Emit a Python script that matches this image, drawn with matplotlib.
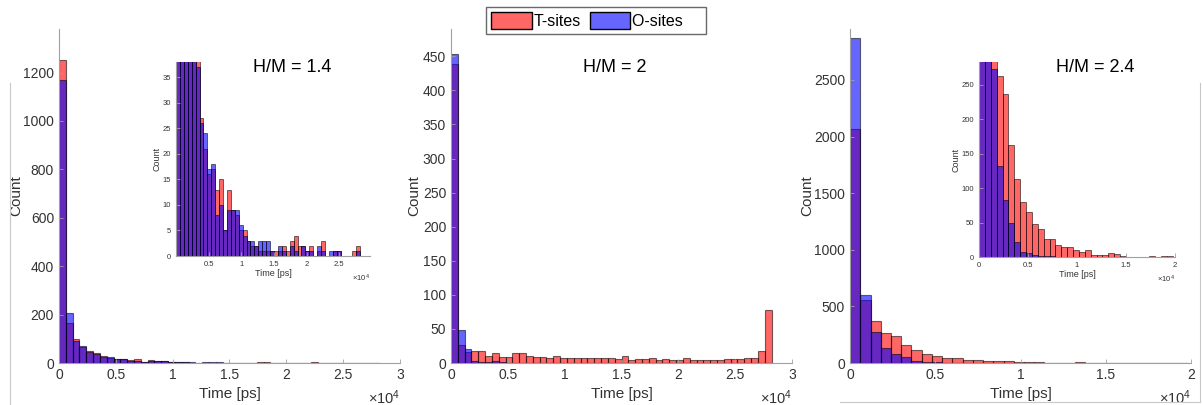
import numpy as np
import matplotlib
matplotlib.use("Agg")
import matplotlib.pyplot as plt
from matplotlib.patches import Patch
from matplotlib.lines import Line2D

plt.rcParams['font.family'] = ['Liberation Sans', 'DejaVu Sans']
plt.rcParams['mathtext.fontset'] = 'custom'
plt.rcParams['mathtext.rm'] = 'Liberation Sans'
plt.rcParams['mathtext.it'] = 'Liberation Sans:italic'

# bin width of the histograms [ps]
bin_w = 600

# H/M = 1.4 counts per bin
t_14 = [1250, 166, 99, 67, 51, 41, 27, 21, 16, 17, 13, 15, 5, 13, 9, 8, 5, 5, 3, 2, 2, 1,
        1, 1, 1, 1, 1, 2, 1, 3, 4, 2, 2, 1, 2, 0, 1, 3, 0, 0, 1, 1, 0, 0, 0, 1, 2]
o_14 = [1170, 207, 91, 69, 44, 37, 26, 24, 17, 18, 8, 10, 5, 9, 9, 9, 6, 4, 3, 3, 2, 3,
        3, 3, 1, 0, 2, 1, 0, 2, 1, 0, 2, 1, 1, 0, 2, 1, 0, 1, 1, 1, 0, 0, 0, 0, 1]

# H/M = 2
t_20 = [438, 27, 16, 17, 17, 10, 14, 9, 9, 14, 14, 10, 9, 9, 8, 10, 7, 7, 7, 8, 7, 8,
        7, 8, 6, 11, 5, 6, 6, 8, 5, 6, 5, 5, 8, 4, 4, 4, 5, 4, 6, 6, 6, 8, 7, 18, 78]
o_20 = [453, 48, 21, 3, 2, 1, 3, 1, 0, 0, 0, 0, 0, 0, 0, 0, 0, 0, 0, 0, 0, 0,
        0, 0, 0, 0, 0, 0, 0, 0, 0, 0, 0, 0, 0, 0, 0, 0, 0, 0, 0, 0, 0, 0, 0, 0, 0]

# H/M = 2.4
t_24 = [2070, 555, 375, 262, 237, 162, 113, 80, 65, 48, 40, 26, 26, 17, 14, 15, 10,
        8, 10, 3, 3, 3, 6, 4, 2, 0, 0, 0, 0, 1, 0, 1, 1]
o_24 = [2870, 600, 273, 132, 83, 49, 22, 7, 6, 3, 1, 2, 1, 0, 0, 0, 0,
        0, 0, 0, 0, 0, 0, 0, 0, 0, 0, 0, 0, 0, 0, 0, 0]

labels = ["H/M = 1.4", "H/M = 2", "H/M = 2.4"]

red = (1, 0, 0, 0.6)
blue = (0, 0, 1, 0.6)
edge = (0, 0, 0, 0.55)
axcol = "#a0a0a0"
txtcol = "#333333"


def draw_hist(ax, t, o, lw=0.8):
    x_t = np.arange(len(t)) * bin_w
    x_o = np.arange(len(o)) * bin_w
    ax.bar(x_t, t, width=bin_w, align="edge", color=red, edgecolor=edge, linewidth=lw)
    ax.bar(x_o, o, width=bin_w, align="edge", color=blue, edgecolor=edge, linewidth=lw)


def style(ax, fs):
    for s in ["top", "right"]:
        ax.spines[s].set_visible(False)
    for s in ["left", "bottom"]:
        ax.spines[s].set_color(axcol)
        ax.spines[s].set_linewidth(0.8)
    ax.tick_params(direction="in", colors=axcol, labelcolor=txtcol, labelsize=fs,
                   length=3, width=0.6)


def xlabels(ax, ticks, off_fs, off_y):
    ax.set_xticks(ticks)
    ax.set_xticklabels([("%g" % (v / 1e4)) for v in ticks])
    ax.text(1.0, off_y, r"$\times$10$^{4}$", transform=ax.transAxes, ha="right",
            va="top", fontsize=off_fs, color=txtcol)


fig = plt.figure(figsize=(12.03, 4.05), dpi=100)

main_pos = [[0.049, 0.1037, 0.2835, 0.8247],
            [0.3749, 0.1037, 0.2835, 0.8247],
            [0.7066, 0.1037, 0.2835, 0.8247]]
ylims = [1380, 490, 2950]
xlims = [30000, 30000, 20000]
yticks = [np.arange(0, 1201, 200), np.arange(0, 451, 50), np.arange(0, 2501, 500)]
xticks = [np.arange(0, 30001, 5000), np.arange(0, 30001, 5000), np.arange(0, 20001, 5000)]
data = [(t_14, o_14), (t_20, o_20), (t_24, o_24)]
label_x = [292, 615, 1095]
ylab_x = [-0.105, -0.087, -0.105]

for i in range(3):
    ax = fig.add_axes(main_pos[i])
    draw_hist(ax, data[i][0], data[i][1])
    ax.set_xlim(0, xlims[i])
    ax.set_ylim(0, ylims[i])
    ax.set_yticks(yticks[i])
    style(ax, 10)
    xlabels(ax, xticks[i], 10.5, -0.075)
    ax.set_xlabel("Time [ps]", fontsize=11, color=txtcol, labelpad=4)
    ax.set_ylabel("Count", fontsize=11, color=txtcol)
    ax.yaxis.set_label_coords(ylab_x[i], 0.5)
    fig.text(label_x[i] / 1203, 1 - 67 / 405, labels[i], fontsize=13, ha="center",
             va="center", color="black")

# insets
ins1 = fig.add_axes([0.1463, 0.3679, 0.1613, 0.479])
draw_hist(ins1, t_14, o_14, lw=0.7)
ins1.set_xlim(0, 29700)
ins1.set_ylim(0, 38)
ins1.set_yticks(np.arange(0, 36, 5))
style(ins1, 5.5)
xlabels(ins1, np.arange(5000, 25001, 5000), 5.5, -0.085)
ins1.set_xlabel("Time [ps]", fontsize=6.5, color=txtcol, labelpad=1)
ins1.set_ylabel("Count", fontsize=6.5, color=txtcol, labelpad=1)

ins3 = fig.add_axes([0.8138, 0.3654, 0.1629, 0.4815])
draw_hist(ins3, t_24, o_24, lw=0.7)
ins3.set_xlim(0, 20000)
ins3.set_ylim(0, 283)
ins3.set_yticks(np.arange(0, 251, 50))
style(ins3, 5.5)
xlabels(ins3, np.arange(0, 20001, 5000), 5.5, -0.085)
ins3.set_xlabel("Time [ps]", fontsize=6.5, color=txtcol, labelpad=1)
ins3.set_ylabel("Count", fontsize=6.5, color=txtcol, labelpad=1)

# legend on top
handles = [Patch(facecolor=red, edgecolor="black", label="T-sites"),
           Patch(facecolor=blue, edgecolor="black", label="O-sites    ")]
leg = fig.legend(handles=handles, loc="center", bbox_to_anchor=(596 / 1203, 1 - 20.5 / 405),
                 ncol=2, fontsize=11.5, frameon=True, fancybox=False, handlelength=2.55,
                 handleheight=1.3, handletextpad=0.12, columnspacing=0.55,
                 borderpad=0.3, borderaxespad=0)
leg.get_frame().set_edgecolor("#444444")
leg.get_frame().set_linewidth(1.0)

# thin frame lines from the screenshot crops
fig.add_artist(Line2D([10 / 1203, 10 / 1203], [0, 1 - 83 / 405], color="#c8c8c8", lw=0.8))
fig.add_artist(Line2D([1200 / 1203, 1200 / 1203], [3 / 405, 1 - 83 / 405], color="#c8c8c8", lw=0.8))
fig.add_artist(Line2D([840 / 1203, 1200 / 1203], [3 / 405, 3 / 405], color="#c8c8c8", lw=0.8))

fig.savefig("out.png", dpi=100)
